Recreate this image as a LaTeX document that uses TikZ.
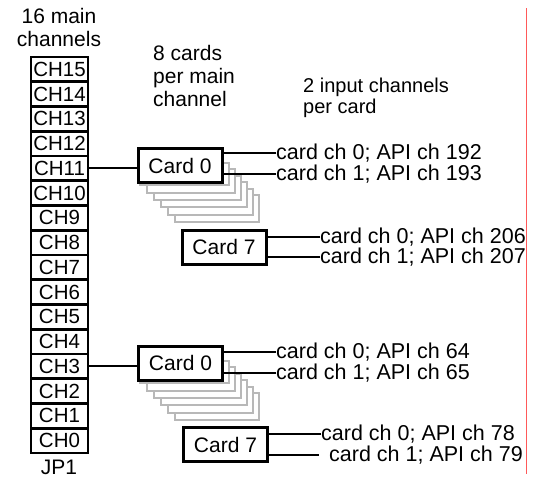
\documentclass[tikz,border=0pt]{standalone}
\usepackage{fontspec}
\setmainfont{Liberation Sans}
\usetikzlibrary{positioning}

\begin{document}
\begin{tikzpicture}[x=1pt,y=-1pt,
chbox/.style={draw, line width=2.6pt, fill=white, minimum width=57pt, minimum height=24.75pt, inner sep=0pt, font=\fontsize{20.5}{23}\selectfont},
card/.style={draw, line width=3pt, fill=white, minimum width=84pt, minimum height=34pt, inner sep=0pt, font=\fontsize{21}{23}\selectfont},
ghost/.style={draw=black!28, line width=2pt, fill=white},
note/.style={inner sep=0pt, font=\fontsize{21}{23}\selectfont},
chan/.style={anchor=west, inner sep=0pt, font=\fontsize{21.5}{23}\selectfont},
wire/.style={line width=2pt}
]
\useasboundingbox (0,0) rectangle (543,479);
\draw[red!65, line width=0.9pt] (526,8) -- (526,474);

% connector JP1
\foreach \i in {0,...,15}
  \node[chbox] (ch\i) at (59.5,{57+24.75*(15-\i)+12.375}) {CH\i};
\node[note, align=center, anchor=north] (title) at (59,8) {16 main\\channels};
\node[note, anchor=north] (jp) at (59,460) {JP1};

\node[note, align=left, anchor=north west] (cards) at (153,45) {8 cards\\per main\\channel};
\node[note, align=left, anchor=north west, font=\fontsize{20}{21}\selectfont] (inputs) at (303,78) {2 input channels\\per card};

% stacked cards behind card 0
\foreach \oy in {0,198}
  \foreach \i in {6,5,...,1}
    \draw[ghost] ({133+7*\i},{\oy+156+6.5*\i}) rectangle ({223+6*\i},{\oy+178+7.3*\i});

\node[card] (cardA0) at (180,165.5) {Card 0};
\node[card] (cardA7) at (224,247) {Card 7};
\node[card] (cardB0) at (180.5,363) {Card 0};
\node[card] (cardB7) at (225.5,444.5) {Card 7};

\node[chan] (tA00) at (276,153) {card ch 0; API ch 192};
\node[chan] (tA01) at (276,174) {card ch 1; API ch 193};
\node[chan] (tA70) at (320,237) {card ch 0; API ch 206};
\node[chan] (tA71) at (320,257) {card ch 1; API ch 207};
\node[chan] (tB00) at (276,352) {card ch 0; API ch 64};
\node[chan] (tB01) at (276,373) {card ch 1; API ch 65};
\node[chan] (tB70) at (321,434) {card ch 0; API ch 78};
\node[chan] (tB71) at (329,455) {card ch 1; API ch 79};

\draw[wire] (ch11.east) -- (ch11.east -| cardA0.west);
\draw[wire] (ch3.east) -- (ch3.east -| cardB0.west);

\draw[wire] (cardA0.east |- tA00.west) -- (tA00.west);
\draw[wire] (cardA0.east |- tA01.west) -- (tA01.west);
\draw[wire] (cardA7.east |- tA70.west) -- (tA70.west);
\draw[wire] (cardA7.east |- tA71.west) -- (tA71.west);
\draw[wire] (cardB0.east |- tB00.west) -- (tB00.west);
\draw[wire] (cardB0.east |- tB01.west) -- (tB01.west);
\draw[wire] (cardB7.east |- tB70.west) -- (tB70.west);
\draw[wire] (cardB7.east |- tB71.west) -- ([xshift=-10pt]tB71.west);
\end{tikzpicture}
\end{document}
